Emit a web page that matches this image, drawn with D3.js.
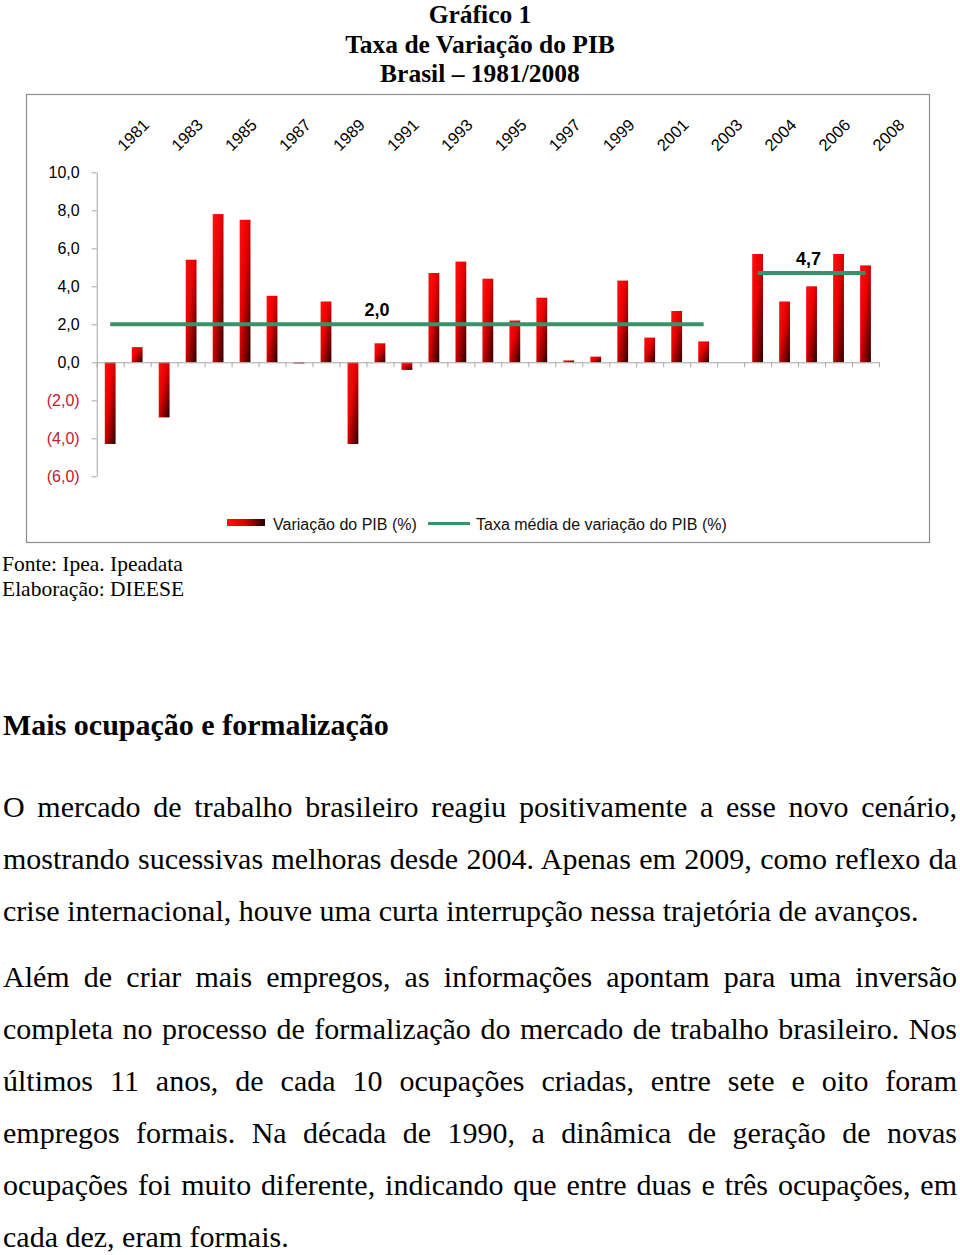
<!DOCTYPE html>
<html><head><meta charset="utf-8">
<script src="https://cdn.jsdelivr.net/npm/d3@7"></script>
<style>body{margin:0;background:#fff;} svg{display:block;}</style>
</head><body>
<svg id="page" width="960" height="1255"></svg>
<script>
// ---------------- data ----------------
const categories = ["1981","1982","1983","1984","1985","1986","1987","1988","1989","1990",
  "1991","1992","1993","1994","1995","1996","1997","1998","1999","2000",
  "2001","2002","2003"," ","2004","2005","2006","2007","2008"];
const gdpGrowth = [-4.3, 0.8, -2.9, 5.4, 7.8, 7.5, 3.5, -0.06, 3.2, -4.3,
  1.0, -0.4, 4.7, 5.3, 4.4, 2.2, 3.4, 0.1, 0.3, 4.3,
  1.3, 2.7, 1.1, null, 5.7, 3.2, 4.0, 5.7, 5.1];
const avgGrowth = [2.0, 2.0, 2.0, 2.0, 2.0, 2.0, 2.0, 2.0, 2.0, 2.0,
  2.0, 2.0, 2.0, 2.0, 2.0, 2.0, 2.0, 2.0, 2.0, 2.0,
  2.0, 2.0, 2.0, null, 4.7, 4.7, 4.7, 4.7, 4.7];
const avgLabelAt = ["1991", "2006"];
const xTickLabels = ["1981","1983","1985","1987","1989","1991","1993","1995","1997","1999","2001","2003","2004","2006","2008"];
const yTicks = [-6, -4, -2, 0, 2, 4, 6, 8, 10];
const legendLabels = ["Variação do PIB (%)", "Taxa média de variação do PIB (%)"];
const titleLines = ["Gráfico 1", "Taxa de Variação do PIB", "Brasil – 1981/2008"];
const sourceLines = ["Fonte: Ipea. Ipeadata", "Elaboração: DIEESE"];
const heading = "Mais ocupação e formalização";
const paragraphs = [
  ["O mercado de trabalho brasileiro reagiu positivamente a esse novo cenário,",
   "mostrando sucessivas melhoras desde 2004. Apenas em 2009, como reflexo da",
   "crise internacional, houve uma curta interrupção nessa trajetória de avanços."],
  ["Além de criar mais empregos, as informações apontam para uma inversão",
   "completa no processo de formalização do mercado de trabalho brasileiro. Nos",
   "últimos 11 anos, de cada 10 ocupações criadas, entre sete e oito foram",
   "empregos formais. Na década de 1990, a dinâmica de geração de novas",
   "ocupações foi muito diferente, indicando que entre duas e três ocupações, em",
   "cada dez, eram formais."]
];

// ---------------- layout ----------------
const svg = d3.select("#page");
const serif = "'Liberation Serif','Times New Roman',serif";
const sans = "'Liberation Sans',Arial,sans-serif";

// gradient for bars
const defs = svg.append("defs");
const grad = defs.append("linearGradient").attr("id","barGrad")
  .attr("x1",0).attr("y1",0).attr("x2",1).attr("y2",1);
grad.append("stop").attr("offset","0").attr("stop-color","#ff1010");
grad.append("stop").attr("offset","0.42").attr("stop-color","#e80000");
grad.append("stop").attr("offset","1").attr("stop-color","#2a0000");
const lgGrad = defs.append("linearGradient").attr("id","legGrad")
  .attr("x1",0).attr("y1",0).attr("x2",1).attr("y2",0);
lgGrad.append("stop").attr("offset","0").attr("stop-color","#ff1010");
lgGrad.append("stop").attr("offset","0.45").attr("stop-color","#e00000");
lgGrad.append("stop").attr("offset","1").attr("stop-color","#200000");

// title
svg.append("g").selectAll("text").data(titleLines).join("text")
  .attr("x", 480).attr("y", (d,i) => 23 + i*29.5)
  .attr("text-anchor","middle")
  .style("font-family", serif).style("font-weight","bold").style("font-size","25.5px")
  .text(d => d);

// chart frame
svg.append("rect").attr("x",26.5).attr("y",94.5).attr("width",903).attr("height",448)
  .attr("fill","none").attr("stroke","#8c8c8c").attr("stroke-width",1.2);

const x = d3.scaleBand().domain(categories).range([96.7, 879]).padding(0);
const xb = d3.scaleLinear().domain([0, categories.length]).range([96.7, 879]);
const y = d3.scaleLinear().domain([-6, 10]).range([476.3, 172.3]);
const bw = x.bandwidth() * 0.4;
const cx = c => x(c) + x.bandwidth()/2;

// y axis
const fmt = v => (v < 0 ? "(" + Math.abs(v).toFixed(1).replace(".", ",") + ")" : v.toFixed(1).replace(".", ","));
const yAxis = svg.append("g").attr("transform","translate(96.7,0)")
  .call(d3.axisLeft(y).tickValues(yTicks).tickSize(5).tickSizeOuter(0).tickPadding(12).tickFormat(fmt));
yAxis.select(".domain").attr("stroke","#a6a6a6");
yAxis.selectAll(".tick line").attr("stroke","#a6a6a6");
yAxis.selectAll(".tick text")
  .style("font-family", sans).style("font-size","16px")
  .attr("fill", d => d < 0 ? "#c0202c" : "#000");

// bars
const barData = categories.map((c,i) => ({c, v: gdpGrowth[i]})).filter(d => d.v !== null);
svg.append("g").selectAll("rect").data(barData).join("rect")
  .attr("x", d => cx(d.c) - bw/2)
  .attr("width", bw)
  .attr("y", d => y(Math.max(0, d.v)))
  .attr("height", d => Math.abs(y(d.v) - y(0)))
  .attr("fill", "url(#barGrad)");

// x axis at zero
const xAxis = svg.append("g").attr("transform", `translate(0,${y(0)})`)
  .call(d3.axisBottom(xb).tickValues(d3.range(categories.length + 1)).tickSize(5).tickSizeOuter(0).tickFormat(""));
xAxis.select(".domain").attr("stroke","#a6a6a6");
xAxis.selectAll(".tick line").attr("stroke","#a6a6a6");

// top category labels
svg.append("g").selectAll("text").data(xTickLabels).join("text")
  .attr("transform", d => `translate(${cx(d) + 14},152) rotate(-45)`)
  .attr("text-anchor","start")
  .style("font-family", sans).style("font-size","16.5px")
  .text(d => d);

// average lines
const avgData = categories.map((c,i) => ({c, v: avgGrowth[i]}));
const line = d3.line().defined(d => d.v !== null).x(d => cx(d.c)).y(d => y(d.v));
svg.append("path").datum(avgData).attr("d", line)
  .attr("fill","none").attr("stroke","#3a926a").attr("stroke-width",4);

// average labels
svg.append("g").selectAll("text").data(avgLabelAt).join("text")
  .attr("x", d => cx(d) - 3)
  .attr("y", d => y(avgGrowth[categories.indexOf(d)]) - 8.5)
  .attr("text-anchor","middle")
  .style("font-family", sans).style("font-weight","bold").style("font-size","18px")
  .text(d => avgGrowth[categories.indexOf(d)].toFixed(1).replace(".", ","));

// legend
const lg = svg.append("g");
lg.append("rect").attr("x",227).attr("y",519).attr("width",38).attr("height",7).attr("fill","url(#legGrad)");
lg.append("text").attr("x",273).attr("y",529.5)
  .style("font-family", sans).style("font-size","16px").attr("fill","#111").text(legendLabels[0]);
lg.append("line").attr("x1",428).attr("x2",470).attr("y1",523.5).attr("y2",523.5)
  .attr("stroke","#3a926a").attr("stroke-width",3);
lg.append("text").attr("x",476).attr("y",529.5)
  .style("font-family", sans).style("font-size","16px").attr("fill","#111").text(legendLabels[1]);

// source
svg.append("g").selectAll("text").data(sourceLines).join("text")
  .attr("x", 2).attr("y", (d,i) => 571 + i*25)
  .style("font-family", serif).style("font-size","21.5px")
  .text(d => d);

// heading
svg.append("text").attr("x",3).attr("y",735)
  .style("font-family", serif).style("font-weight","bold").style("font-size","30px")
  .text(heading);

// body paragraphs (justified)
const textWidth = 954;
const paraStarts = [817, 987];
paragraphs.forEach((lines, pi) => {
  lines.forEach((ln, li) => {
    const t = svg.append("text").attr("x",3).attr("y", paraStarts[pi] + li*52)
      .style("font-family", serif).style("font-size","30px")
      .attr("xml:space","preserve")
      .text(ln);
    if (li < lines.length - 1) {
      const w = t.node().getComputedTextLength();
      const spaces = (ln.match(/ /g) || []).length;
      if (spaces > 0) t.style("word-spacing", ((textWidth - w) / spaces) + "px");
    }
  });
});
</script>
</body></html>
